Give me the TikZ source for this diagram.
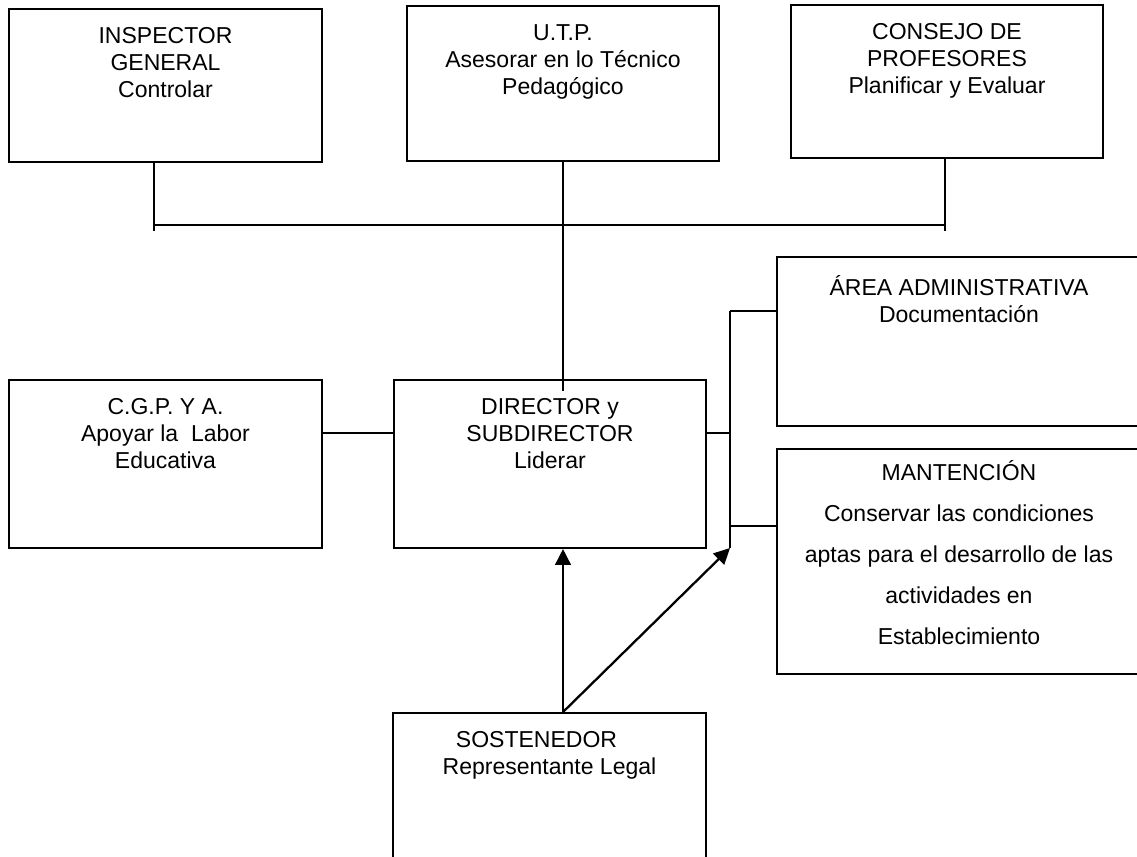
\documentclass[tikz,border=0pt]{standalone}
\usepackage{fontspec}
\setmainfont{Liberation Sans}
\usetikzlibrary{arrows.meta}

\begin{document}
\begin{tikzpicture}[x=0.02cm,y=-0.02cm,
  >={Triangle[length=0.32cm,width=0.31cm]},
  box/.style={draw,line width=1.1pt,inner sep=0pt},
  boxtext/.style={anchor=north,inner sep=0pt,yshift=-0.38cm,align=center,
    font=\fontsize{13.1}{15.4}\selectfont},
  conn/.style={line width=1.1pt}]
  \useasboundingbox (0,0) rectangle (1137,857);
  \clip (0,0) rectangle (1137,857);

  % Top row
  \node[box,minimum width=6.26cm,minimum height=3.06cm,
    label={[boxtext]north:{INSPECTOR\\GENERAL\\Controlar}}] (insp) at (165.5,85.5) {};
  \node[box,minimum width=6.24cm,minimum height=3.10cm,
    label={[boxtext]north:{U.T.P.\\Asesorar en lo Técnico\\Pedagógico}}] (utp) at (563,83.5) {};
  \node[box,minimum width=6.24cm,minimum height=3.06cm,
    label={[boxtext]north:{CONSEJO DE\\PROFESORES\\Planificar y Evaluar}}] (cons) at (947,81.5) {};

  % Middle row
  \node[box,minimum width=6.26cm,minimum height=3.36cm,
    label={[boxtext]north:{C.G.P. Y A.\\Apoyar la\ \ Labor\\Educativa}}] (cgp) at (165.5,464) {};
  \node[box,minimum width=6.24cm,minimum height=3.36cm,
    label={[boxtext]north:{DIRECTOR y\\SUBDIRECTOR\\Liderar}}] (dir) at (550,464) {};

  % Right column
  \node[box,minimum width=7.28cm,minimum height=3.38cm,
    label={[boxtext]north:{ÁREA ADMINISTRATIVA\\Documentación}}] (area) at (959,341.5) {};
  \node[box,minimum width=7.28cm,minimum height=4.50cm,
    label={[boxtext,yshift=0.14cm,font=\fontsize{13.1}{23.3}\selectfont]north:{MANTENCIÓN\\Conservar las condiciones\\aptas para el desarrollo de las\\actividades en\\Establecimiento}}] (mant) at (959,561.5) {};

  % Bottom
  \node[box,minimum width=6.26cm,minimum height=4cm,
    label={[boxtext]north:{SOSTENEDOR\hspace*{0.52cm}\\Representante Legal}}] (sost) at (549.5,813) {};

  % Connector points
  \coordinate (insp-end) at (154,231);
  \coordinate (cons-end) at (945,231);
  \coordinate (bus) at (0,225);
  \coordinate (utp-end) at (563,391);
  \coordinate (link) at (0,433);
  \coordinate (spine-top) at (730,311);
  \coordinate (spine-bot) at (730,548);
  \coordinate (mant-link) at (0,526);

  % Top connectors
  \draw[conn] (insp.south -| insp-end) -- (insp-end);
  \draw[conn] (cons.south -| cons-end) -- (cons-end);
  \draw[conn] (insp-end |- bus) -- (cons-end |- bus);
  \draw[conn] (utp.south) -- (utp-end);

  % Side connectors
  \draw[conn] (cgp.east |- link) -- (dir.west |- link);
  \draw[conn] (dir.east |- link) -- (spine-top |- link);
  \draw[conn] (spine-top) -- (spine-bot);
  \draw[conn] (spine-top) -- (area.west |- spine-top);
  \draw[conn] (spine-bot |- mant-link) -- (mant.west |- mant-link);

  % Arrows
  \draw[->,line width=1.6pt] (sost.north -| utp-end) -- (dir.south -| utp-end);
  \draw[->,line width=1.3pt] (sost.north -| utp-end) -- (spine-bot);
\end{tikzpicture}
\end{document}
